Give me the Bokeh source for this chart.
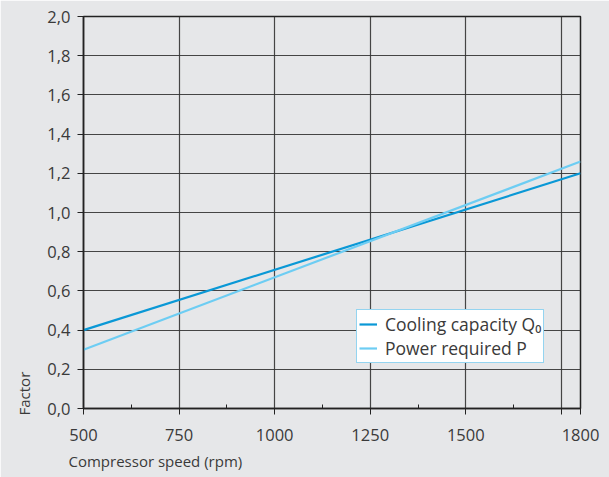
from bokeh.plotting import figure
from bokeh.models import (FixedTicker, CustomJSTickFormatter, Legend, LegendItem, Title)
from bokeh.embed import file_html
from bokeh.resources import INLINE

# data
speed = [500, 1800]
cooling_capacity = [0.40, 1.20]
power_required = [0.30, 1.26]
x_ticks = [500, 750, 1000, 1250, 1500, 1750, 1800]
x_minor = [625, 875, 1125, 1375, 1625]
y_ticks = [0.0, 0.2, 0.4, 0.6, 0.8, 1.0, 1.2, 1.4, 1.6, 1.8, 2.0]

BG = "#e6e7e9"
TXT = "#3a3a3a"
FONT = "Open Sans"

p = figure(width=609, height=477, output_backend="svg", toolbar_location=None,
           x_range=(500, 1800), y_range=(0, 2.0),
           min_border_left=83, min_border_right=29, min_border_top=16, min_border_bottom=69)
p.background_fill_color = BG
p.border_fill_color = BG
p.outline_line_color = "#222222"
p.outline_line_width = 1.5

# axes
p.xaxis.ticker = FixedTicker(ticks=x_ticks, minor_ticks=x_minor)
p.xaxis.major_label_overrides = {1750: ""}
p.yaxis.ticker = FixedTicker(ticks=y_ticks)
p.yaxis.formatter = CustomJSTickFormatter(code="return tick.toFixed(1).replace('.', ',');")
for ax in (p.xaxis[0], p.yaxis[0]):
    ax.axis_line_color = "#222222"
    ax.axis_line_width = 1.5
    ax.major_tick_line_color = "#222222"
    ax.major_tick_in = 0
    ax.major_tick_out = 6
    ax.major_label_text_font = FONT
    ax.major_label_text_font_size = "16.5px"
    ax.major_label_text_color = TXT
p.xaxis.minor_tick_in = 4
p.xaxis.minor_tick_out = 0
p.xaxis.minor_tick_line_color = "#222222"
p.yaxis.minor_tick_line_color = None
p.xaxis.major_label_standoff = 14
p.yaxis.major_label_standoff = 7

p.xgrid.ticker = FixedTicker(ticks=x_ticks)
p.ygrid.ticker = FixedTicker(ticks=y_ticks)
p.grid.grid_line_color = "#333333"
p.grid.grid_line_width = 1.2
p.grid.grid_line_alpha = 0.9

# axis titles
xt = Title(text="Compressor speed (rpm)", align="left", offset=-15,
           text_font=FONT, text_font_size="15px", text_font_style="normal",
           text_color=TXT, standoff=10)
p.add_layout(xt, "below")
yt = Title(text="Factor", align="left", offset=-7,
           text_font=FONT, text_font_size="15px", text_font_style="normal",
           text_color=TXT, standoff=21)
p.add_layout(yt, "left")

# lines
r1 = p.line(speed, cooling_capacity, line_color="#0a98d6", line_width=2.2)
r2 = p.line(speed, power_required, line_color="#6dcdf3", line_width=2.2)

legend = Legend(items=[LegendItem(label="Cooling capacity Q\u2080", renderers=[r1]),
                       LegendItem(label="Power required P", renderers=[r2])],
                location=(273, 45))
legend.border_line_color = "#2aaae2"
legend.border_line_width = 1.5
legend.background_fill_color = "white"
legend.background_fill_alpha = 1
legend.label_text_font = FONT
legend.label_text_font_size = "17.5px"
legend.label_text_color = TXT
legend.glyph_width = 18
legend.glyph_height = 18
legend.label_height = 18
legend.spacing = 0
legend.padding = 2
legend.margin = 0
legend.label_standoff = 8
p.add_layout(legend, "center")

open("out.html", "w").write(file_html(p, INLINE))
